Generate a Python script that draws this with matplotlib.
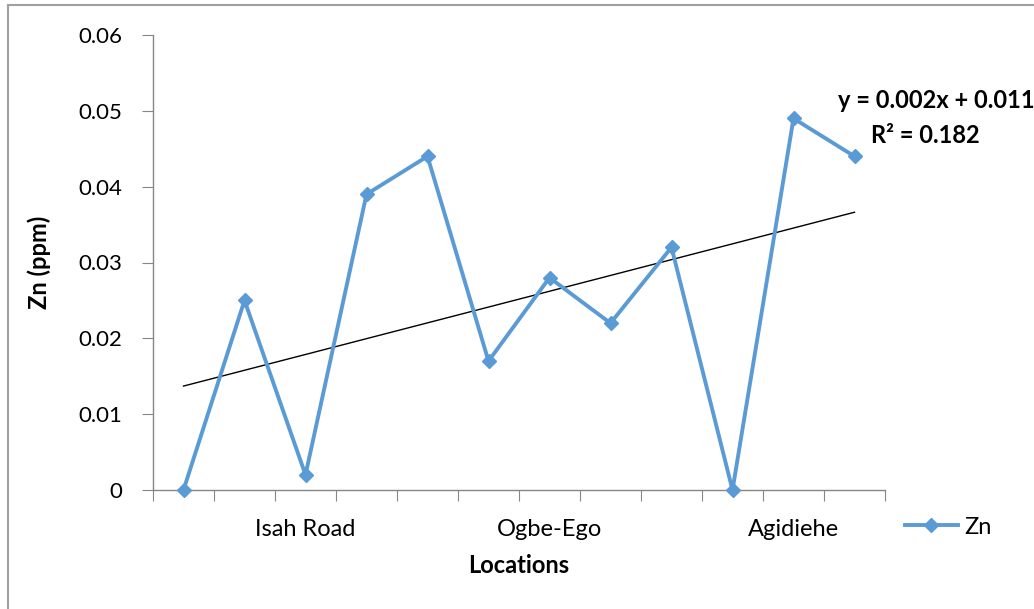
import numpy as np
import matplotlib
matplotlib.use('Agg')
import matplotlib.pyplot as plt
from matplotlib.patches import Rectangle

# data
sample_no = list(range(1, 13))
zn = [0, 0.025, 0.002, 0.039, 0.044, 0.017, 0.028, 0.022, 0.032, 0, 0.049, 0.044]
loc_pos = [3, 7, 11]
loc_names = ['Isah Road', 'Ogbe-Ego', 'Agidiehe']
y_ticks = [0, 0.01, 0.02, 0.03, 0.04, 0.05, 0.06]
y_ticklabels = ['0', '0.01', '0.02', '0.03', '0.04', '0.05', '0.06']

plt.rcParams['font.family'] = ['Lato', 'DejaVu Sans']
axis_col = '#868686'
blue = '#5B9BD5'

fig = plt.figure(figsize=(10.34, 6.09), dpi=100)
ax = fig.add_axes([153/1034, 1-490/609, (885-153)/1034, (490-35)/609])

# outer chart border (only top/left visible in the reference)
fig.patches.append(Rectangle((8/1034, -0.05), 1.2, 1-5/609+0.05, transform=fig.transFigure,
                             fill=False, edgecolor='#a0a0a0', linewidth=1.5))

ax.plot(sample_no, zn, color=blue, linewidth=2.8, marker='D', markersize=7, label='Zn',
        clip_on=False, zorder=3)

# linear trendline
x = np.array(sample_no)
slope, icpt = np.polyfit(x, zn, 1)
ax.plot(x, slope*x + icpt, color='black', linewidth=1)

ax.set_xlim(0.5, 12.5)
ax.set_ylim(0, 0.06)
ax.set_yticks(y_ticks)
ax.set_yticklabels(y_ticklabels, fontsize=16)
ax.set_xticks(np.arange(0.5, 13, 1))
ax.set_xticklabels([])
ax.set_xticks(loc_pos, minor=True)
ax.set_xticklabels(loc_names, minor=True, fontsize=17)
ax.tick_params(axis='x', which='major', length=8, color=axis_col, direction='out')
ax.tick_params(axis='x', which='minor', length=0, pad=21)
ax.tick_params(axis='y', length=8, color=axis_col, pad=14)

for s in ['top', 'right']:
    ax.spines[s].set_visible(False)
for s in ['left', 'bottom']:
    ax.spines[s].set_color(axis_col)
    ax.spines[s].set_linewidth(1)

ax.set_xlabel('Locations', fontsize=17, fontweight='bold', labelpad=10)
ax.set_ylabel('Zn (ppm)', fontsize=17, fontweight='bold', labelpad=20)

fig.text(936/1034, 1-101/609, 'y = 0.002x + 0.011', fontsize=17, fontweight='bold', ha='center', va='center')
fig.text(925/1034, 1-135/609, 'R² = 0.182', fontsize=17, fontweight='bold', ha='center', va='center')

ax.legend(loc='center left', bbox_to_anchor=(893/1034, 1-527/609), bbox_transform=fig.transFigure,
          frameon=False, fontsize=17, handlelength=2.25, handletextpad=0.25, borderpad=0)

fig.savefig('out.png', dpi=100)
